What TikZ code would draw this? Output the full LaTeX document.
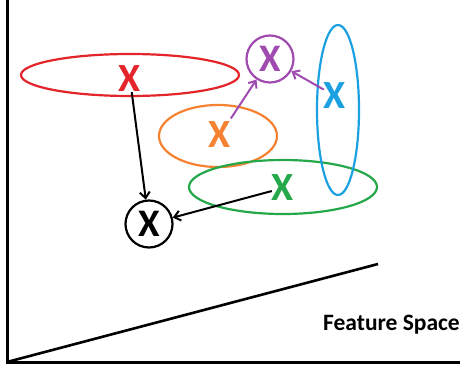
\documentclass[tikz,border=0pt]{standalone}
\usepackage{fontspec}
\setmainfont{Carlito}
\usetikzlibrary{arrows.meta}
\definecolor{pred}{HTML}{E3242B}
\definecolor{porange}{HTML}{F58232}
\definecolor{ppurple}{HTML}{A04BB0}
\definecolor{pblue}{HTML}{1BA1E2}
\definecolor{pgreen}{HTML}{25A84A}
\tikzset{
  xmark/.style={inner sep=0pt, font=\fontsize{40}{40}\selectfont\bfseries},
  ring/.style={circle, draw, line width=2.2pt, minimum size=47pt, inner sep=0pt, font=\fontsize{39}{39}\selectfont\bfseries},
  blob/.style={line width=2.2pt},
  link/.style={line width=2pt, -{Straight Barb[length=6pt,width=10pt,line width=2pt]}},
  axis/.style={line width=3pt},
}
\begin{document}
\begin{tikzpicture}[x=1pt,y=-1pt]
\useasboundingbox (0,0) rectangle (460,369);
% axes
\coordinate (o) at (7,362);
\coordinate (top) at (7,0);
\coordinate (right) at (460,362);
\coordinate (diag) at (378,264);
\draw[axis] (top) -- (o) -- (right);
\draw[axis, line width=2.6pt] (o) -- (diag);
% ellipses
\draw[blob, pred] (130,75) ellipse [x radius=109, y radius=21];
\draw[blob, porange] (218,136) ellipse [x radius=59, y radius=31];
\draw[blob, pgreen] (283,187) ellipse [x radius=94, y radius=27];
\draw[blob, pblue] (338,110) ellipse [x radius=21, y radius=85];
% X marks
\node[xmark, text=pred] (rx) at (130,79) {X};
\node[xmark, text=porange] (ox) at (220,135) {X};
\node[xmark, text=pgreen] (gx) at (283,188) {X};
\node[xmark, text=pblue] (bx) at (335,96) {X};
\node[ring, draw=ppurple, text=ppurple] (px) at (270,59) {X};
\node[ring, draw=black, text=black] (kx) at (149,224) {X};
% arrows
\draw[link] (rx) -- (kx);
\draw[link] (gx) -- (kx);
\draw[link, draw=ppurple, shorten <=4pt] (ox) -- (px);
\draw[link, draw=ppurple] (bx) -- (px);
% label
\node[anchor=base west, inner sep=0pt, font=\fontsize{23.5}{23.5}\selectfont\bfseries] (fs) at (323,330) {Feature Space};
\end{tikzpicture}
\end{document}
